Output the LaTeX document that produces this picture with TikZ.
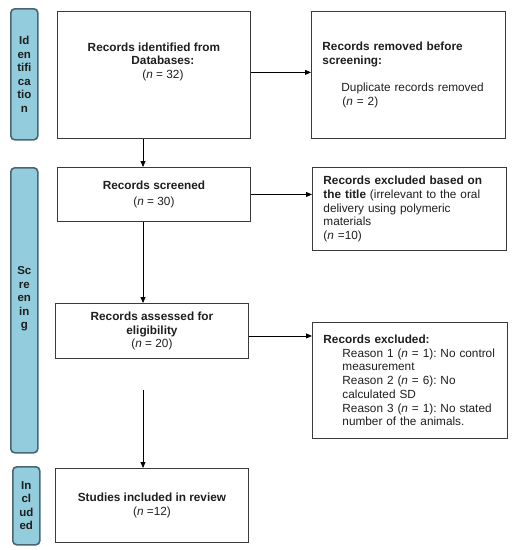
\documentclass[tikz,border=0pt]{standalone}
\usepackage{fontspec}
\setmainfont{Liberation Sans}
\usetikzlibrary{arrows.meta,positioning,calc}
\definecolor{sidefill}{HTML}{93CDDD}
\definecolor{sidedraw}{HTML}{4A6670}
\definecolor{boxdraw}{HTML}{3A3A3A}
\definecolor{txt}{HTML}{1E1E1E}
\hyphenpenalty=10000
\exhyphenpenalty=10000
\hbadness=10000
\hfuzz=50pt
\frenchspacing
\begin{document}
\begin{tikzpicture}[x=1pt,y=-1pt,
  font=\fontsize{11.8}{13.7}\selectfont,
  sidebox/.style={draw=sidedraw,line width=1.6pt,fill=sidefill,rounded corners=4pt,
    anchor=north west,inner sep=0pt,align=center,text=txt,
    font=\fontsize{11.5}{13.5}\selectfont\bfseries},
  mainbox/.style={draw=boxdraw,line width=0.9pt,anchor=north west,inner sep=0pt,
    align=center,text=txt},
  sidenote/.style={draw=boxdraw,line width=0.9pt,anchor=north west,inner xsep=11pt,
    inner ysep=0pt,align=left,text=txt},
  flow/.style={draw=black,line width=0.8pt,-{Triangle[length=6pt,width=5pt]}}]
\useasboundingbox (0,0) rectangle (517,550);
% side labels
\node[sidebox,minimum width=27pt,minimum height=131pt] (sid) at (10,8)
  {Id\\en\\tifi\\ca\\tio\\n};
\node[sidebox,minimum width=27pt,minimum height=285pt] (ssc) at (10,167)
  {Sc\\re\\en\\in\\g\\[12pt]};
\node[sidebox,minimum width=27pt,minimum height=78pt] (sin) at (12,466)
  {In\\cl\\ud\\ed};
% main column
\node[mainbox,minimum width=193pt,minimum height=127pt] (b1) at (57,11)
  {\textbf{Records identified from}\\\hspace*{18pt}\textbf{Databases:}\\\hspace*{18pt}(\textit{n} = 32)\\[15pt]};
\node[mainbox,minimum width=193pt,minimum height=54pt] (b2) at (57,167)
  {\textbf{Records screened}\\[2pt](\textit{n} = 30)};
\node[mainbox,minimum width=193pt,minimum height=55pt] (b3) at (55,303)
  {\textbf{Records assessed for}\\\textbf{eligibility}\\(\textit{n} = 20)};
\node[mainbox,minimum width=193pt,minimum height=74pt] (b4) at (55,468)
  {\textbf{Studies included in review}\\(\textit{n} =12)};
% right column
\node[sidenote,minimum width=194pt,minimum height=127pt,text width=172pt] (r1) at (311,11)
  {\mbox{\textbf{Records removed before}}\\\textbf{screening:}\\[14pt]
   \mbox{\hspace*{19pt}Duplicate records removed}\\\mbox{\hspace*{20pt}(\textit{n} = 2)}\\[15pt]};
\node[sidenote,minimum width=194pt,minimum height=83pt,text width=172pt] (r2) at (312,167)
  {\mbox{\textbf{Records excluded based on}}\\\mbox{\textbf{the title} (irrelevant to the oral}\\\mbox{delivery using polymeric}\\materials\\(\textit{n} =10)};
\node[sidenote,minimum width=195pt,minimum height=116pt,text width=173pt] (r3) at (312,322)
  {\textbf{Records excluded:}\\
   \mbox{\hspace*{19pt}Reason 1 (\textit{n} = 1): No control}\\
   \mbox{\hspace*{19pt}measurement}\\
   \mbox{\hspace*{19pt}Reason 2 (\textit{n} = 6): No}\\
   \mbox{\hspace*{19pt}calculated SD}\\
   \mbox{\hspace*{19pt}Reason 3 (\textit{n} = 1): No stated}\\
   \mbox{\hspace*{19pt}number of the animals.}\\[3pt]};
% connectors
\coordinate (col) at (143,0);
\coordinate (gap) at (143,390);
\draw[flow] (b1.south -| col) -- (b2.north -| col);
\draw[flow] (b2.south -| col) -- (b3.north -| col);
\draw[flow] (gap) -- (b4.north -| col);
\draw[flow] ($(b1.north east)!0.48!(b1.south east)$) -- (r1.west |- {$(b1.north east)!0.48!(b1.south east)$});
\draw[flow] (b2.east) -- (r2.west |- b2.east);
\draw[flow] ($(b3.east)+(0,5)$) -- (r3.west |- {$(b3.east)+(0,5)$});
\end{tikzpicture}
\end{document}
